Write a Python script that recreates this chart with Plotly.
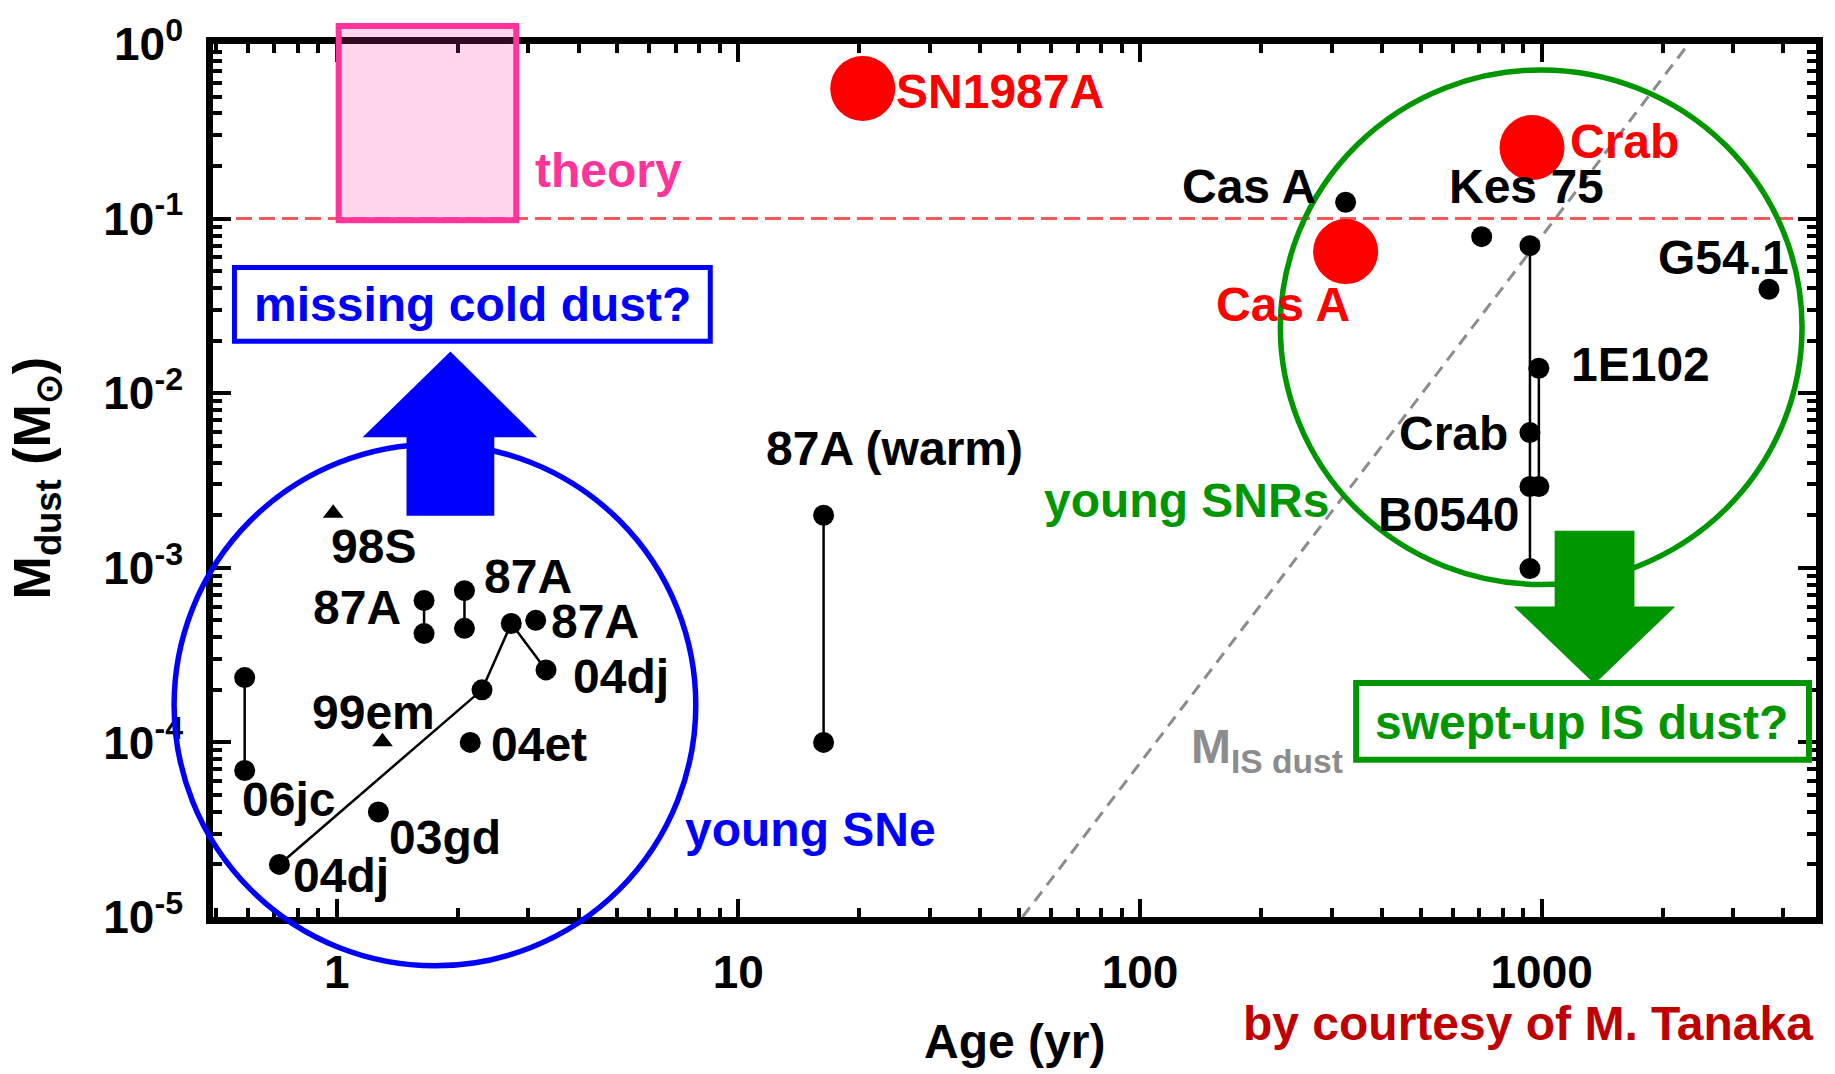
import plotly.graph_objects as go

FONT = "Liberation Sans"
W, H = 1835, 1074
# plot-area edges in pixels (inner side of the frame)
L, R, T, B = 213, 1820, 40, 917
X_LOG_RANGE = [-0.308, 3.683]
Y_LOG_RANGE = [-5, 0]

# ---------------- data (age in yr, dust mass in Msun) ----------------
sn06jc_age = [0.59, 0.59]
sn06jc_mass = [2.35e-4, 6.9e-5]
sn87a_early1_age = [1.65, 1.65]
sn87a_early1_mass = [6.5e-4, 4.2e-4]
sn87a_early2_age = [2.08, 2.08]
sn87a_early2_mass = [7.4e-4, 4.5e-4]
sn87a_early3_age = [3.13]
sn87a_early3_mass = [5.0e-4]
sn04dj_age = [0.72, 2.30, 2.72, 3.32]
sn04dj_mass = [2.0e-5, 2.0e-4, 4.8e-4, 2.6e-4]
sn04et_age = [2.15]
sn04et_mass = [1.0e-4]
sn03gd_age = [1.27]
sn03gd_mass = [4.0e-5]
limit_age = [0.98, 1.30]          # 98S, 99em (triangles)
limit_mass = [2.05e-3, 1.01e-4]
sn87a_warm_age = [16.3, 16.3]
sn87a_warm_mass = [2.0e-3, 1.0e-4]

casA_age = [325]
casA_mass = [0.124]
kes75_age = [709]
kes75_mass = [0.0788]
crab_b0540_age = [935, 935, 935, 935]
crab_b0540_mass = [0.070, 5.95e-3, 2.92e-3, 9.9e-4]
e102_age = [984, 984]
e102_mass = [0.0139, 2.92e-3]
g54_age = [3680]
g54_mass = [0.0394]

cold_age = [20.4, 325, 946]       # SN1987A, Cas A, Crab (cold dust)
cold_mass = [0.556, 0.0647, 0.255]

is_dust_age = [51, 2320]
is_dust_mass = [1e-5, 1.0]
theory_level = [0.1, 0.1]

x_major = [1, 10, 100, 1000]
x_major_text = ["1", "10", "100", "1000"]
y_major = [1e-5, 1e-4, 1e-3, 1e-2, 1e-1, 1]
y_major_text = ["10<sup>-5</sup>", "10<sup>-4</sup>", "10<sup>-3</sup>",
                "10<sup>-2</sup>", "10<sup>-1</sup>", "10<sup>0</sup>"]
x_minor = [0.5, 0.6, 0.7, 0.8, 0.9] + [m * 10 ** k for k in range(0, 3) for m in range(2, 10)] + [2000, 3000, 4000]
y_minor = [m * 10.0 ** k for k in range(-5, 0) for m in range(2, 10)]

# ---------------- helpers ----------------
def pxx(x):
    return (x - L) / (R - L)

def pxy(y):
    return (B - y) / (B - T)

BLACK_DOT = dict(color="black", size=21)
LINE = dict(color="black", width=2.5)

fig = go.Figure()

# reference lines
fig.add_trace(go.Scatter(x=[10 ** X_LOG_RANGE[0], 10 ** X_LOG_RANGE[1]], y=theory_level, mode="lines",
                         line=dict(color="#F25A5A", width=3, dash="16px,7px"), showlegend=False))
fig.add_trace(go.Scatter(x=is_dust_age, y=is_dust_mass, mode="lines",
                         line=dict(color="#8C8C8C", width=3, dash="12px,8px"), showlegend=False))

for ax_, ay_ in [(sn06jc_age, sn06jc_mass), (sn87a_early1_age, sn87a_early1_mass),
                 (sn87a_early2_age, sn87a_early2_mass), (sn87a_early3_age, sn87a_early3_mass),
                 (sn04dj_age, sn04dj_mass), (sn04et_age, sn04et_mass), (sn03gd_age, sn03gd_mass),
                 (sn87a_warm_age, sn87a_warm_mass), (casA_age, casA_mass), (kes75_age, kes75_mass),
                 (crab_b0540_age, crab_b0540_mass), (e102_age, e102_mass), (g54_age, g54_mass)]:
    fig.add_trace(go.Scatter(x=ax_, y=ay_, mode="lines+markers", marker=BLACK_DOT, line=LINE,
                             showlegend=False))

fig.add_trace(go.Scatter(x=limit_age, y=limit_mass, mode="markers",
                         marker=dict(symbol="triangle-up", color="black", size=18), showlegend=False))
fig.add_trace(go.Scatter(x=cold_age, y=cold_mass, mode="markers",
                         marker=dict(color="#FF0000", size=65), showlegend=False))

# ---------------- decorations ----------------
BLUE = "#0000FF"
GREEN = "#009600"
PINK = "#FF3399"

def rect(x0, y0, x1, y1, **kw):
    return dict(type="rect", xref="paper", yref="paper", x0=pxx(x0), x1=pxx(x1),
                y0=pxy(y1), y1=pxy(y0), layer="above", **kw)

def circ(x0, y0, x1, y1, color, width):
    return dict(type="circle", xref="paper", yref="paper", x0=pxx(x0), x1=pxx(x1),
                y0=pxy(y1), y1=pxy(y0), line=dict(color=color, width=width), layer="above")

def poly(points, color):
    d = "M " + " L ".join(f"{pxx(a):.5f},{pxy(b):.5f}" for a, b in points) + " Z"
    return dict(type="path", xref="paper", yref="paper", path=d, fillcolor=color,
                line=dict(width=0), layer="above")

shapes = [
    rect(339, 22, 517, 217, fillcolor="rgba(255,51,153,0.2)", line=dict(color=PINK, width=6)),
    rect(234.5, 264.5, 711.5, 338.5, line=dict(color=BLUE, width=5)),
    rect(1359, 682, 1813, 759, line=dict(color=GREEN, width=6)),
    circ(174, 442, 697, 966, BLUE, 5.5),
    circ(1283, 66, 1806, 583, GREEN, 5.5),
    poly([(451, 349), (538, 435), (495, 435), (495, 514), (407, 514), (407, 435), (363, 435)], BLUE),
    poly([(1598, 683), (1679, 605), (1638, 605), (1638, 529), (1558, 529), (1558, 605), (1517, 605)], GREEN),
]

def label(text, x, y, color="black", size=48, **kw):
    return dict(text=text, x=pxx(x), y=pxy(y), xref="paper", yref="paper", showarrow=False,
                xanchor="center", yanchor="middle",
                font=dict(family=FONT, size=size, color=color, weight="bold"), **kw)

annotations = [
    label("theory", 609, 167, PINK),
    label("SN1987A", 1002, 88, "#FF0000"),
    label("Crab", 1628, 138, "#FF0000"),
    label("Cas A", 1286, 302, "#FF0000"),
    label("Cas A", 1252, 183),
    label("Kes 75", 1530, 183),
    label("G54.1", 1727, 254),
    label("1E102", 1644, 362),
    label("Crab", 1457, 431),
    label("B0540", 1452, 513),
    label("young SNRs", 1189, 499, GREEN),
    label("87A (warm)", 896, 446),
    label("young SNe", 812, 829, BLUE),
    label("M<sub>IS dust</sub>", 1270, 749, "#8C8C8C"),
    label("missing cold dust?", 473, 302, BLUE),
    label("swept-up IS dust?", 1585, 722, GREEN),
    label("by courtesy of M. Tanaka", 1531, 1024, "#C00000"),
    label("98S", 374, 545),
    label("87A", 357, 606),
    label("87A", 529, 575),
    label("87A", 596, 620),
    label("04dj", 622, 675),
    label("99em", 374, 712),
    label("04et", 540, 744),
    label("06jc", 289, 799),
    label("03gd", 446, 837),
    label("04dj", 341, 875),
    label("Age (yr)", 1017, 1042),
    label("M<sub>dust</sub> (M<sub>⊙</sub>)", 36, 476, size=52, textangle=-90),
]

axis_common = dict(type="log", ticks="inside", ticklen=18, tickwidth=3.5, tickcolor="black",
                   showline=True, linewidth=6.5, linecolor="black", mirror="allticks",
                   showgrid=False, zeroline=False,
                   tickfont=dict(family=FONT, size=46, color="black", weight="bold"))

fig.update_layout(
    width=W, height=H,
    margin=dict(l=L, r=W - R, t=T, b=H - B, pad=0),
    paper_bgcolor="white", plot_bgcolor="white",
    showlegend=False,
    xaxis=dict(range=X_LOG_RANGE, tickmode="array", tickvals=x_major, ticktext=x_major_text,
               minor=dict(tickmode="array", tickvals=x_minor, ticks="inside", ticklen=9,
                          tickwidth=3.5, tickcolor="black", showgrid=False),
               ticklabelstandoff=9, **axis_common),
    yaxis=dict(range=Y_LOG_RANGE, tickmode="array", tickvals=y_major, ticktext=y_major_text,
               minor=dict(tickmode="array", tickvals=y_minor, ticks="inside", ticklen=9,
                          tickwidth=3.5, tickcolor="black", showgrid=False),
               ticklabelstandoff=14, **axis_common),
    shapes=shapes,
    annotations=annotations,
)

fig.write_html("out.html")
